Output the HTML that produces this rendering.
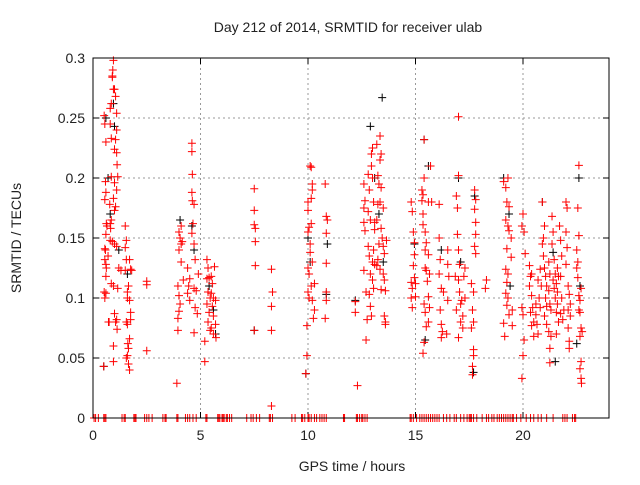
<!DOCTYPE html>
<html><head><meta charset="utf-8"><style>
body{margin:0;background:#fff;}
svg text{font-family:"Liberation Sans",sans-serif;font-size:14px;fill:#222;}
</style></head><body>
<svg id="chart" width="640" height="480">
<text x="348" y="32" text-anchor="middle">Day 212 of 2014, SRMTID for receiver ulab</text>
<text x="352" y="471" text-anchor="middle">GPS time / hours</text>
<text transform="translate(21,238) rotate(-90)" text-anchor="middle">SRMTID / TECUs</text>
<g id="grid"></g>
<g id="axes"></g>
<g id="black"></g>
<g id="red"></g>
<rect x="93" y="58" width="516" height="360" fill="none" stroke="#000" stroke-width="1"/>
</svg>
<script>
const xTicks=[0,5,10,15,20];
const yTicks=[0,0.05,0.1,0.15,0.2,0.25,0.3];
const yTickLabels=["0","0.05","0.1","0.15","0.2","0.25","0.3"];
const redPoints=[
[0.5,0.043],[0.52,0.252],[0.55,0.245],[0.6,0.23],[0.58,0.197],[0.6,0.188],[0.55,0.182],[0.62,0.162],[0.65,0.16],[0.6,0.153],[0.55,0.141],[0.58,0.14],[0.55,0.132],[0.6,0.128],[0.62,0.125],[0.6,0.118],[0.52,0.105],[0.55,0.1],[0.6,0.104],[0.7,0.135],[0.72,0.08],[0.75,0.08],
[0.8,0.162],[0.82,0.158],[0.85,0.165],[0.8,0.148],[0.78,0.178],[0.85,0.201],[0.85,0.233],[0.8,0.245],[0.8,0.258],[0.85,0.262],[0.9,0.285],[0.92,0.29],[0.95,0.298],[0.9,0.284],[0.95,0.274],[1.0,0.274],[1.05,0.268],[1.1,0.254],[1.1,0.24],[1.05,0.232],[1.0,0.224],[1.1,0.221],[1.12,0.211],[1.0,0.196],[1.1,0.19],[0.95,0.183],[1.05,0.176],[1.0,0.173],[1.15,0.201],[0.9,0.147],[1.0,0.145],[1.1,0.143],[0.85,0.112],[0.95,0.11],[1.0,0.087],[1.05,0.08],[1.1,0.082],[1.12,0.074],[1.15,0.108],[1.2,0.125],[1.3,0.123],[0.95,0.06],[0.95,0.047],
[1.5,0.16],[1.55,0.148],[1.5,0.142],[1.55,0.132],[1.5,0.123],[1.6,0.1],[1.6,0.105],[1.65,0.11],[1.55,0.08],[1.6,0.078],[1.62,0.062],[1.65,0.058],[1.55,0.05],[1.6,0.052],[1.65,0.045],[1.7,0.04],[1.7,0.098],[1.75,0.088],[1.7,0.132],[1.75,0.124],[1.8,0.123],[1.75,0.082],[1.7,0.066],
[2.5,0.114],[2.5,0.111],[2.5,0.056],
[3.9,0.029],[4.0,0.155],[4.05,0.15],[4.0,0.14],[4.1,0.145],[3.95,0.11],[4.0,0.102],[4.05,0.095],[4.0,0.089],[3.95,0.083],[3.95,0.073],[4.1,0.16],[4.15,0.147],[4.1,0.13],[4.2,0.115],[4.4,0.125],[4.5,0.116],[4.45,0.11],[4.4,0.104],[4.5,0.098],[4.6,0.229],[4.6,0.222],[4.62,0.203],[4.6,0.188],[4.62,0.181],[4.7,0.178],[4.65,0.162],[4.6,0.154],[4.7,0.145],[4.75,0.132],[4.7,0.108],[4.8,0.106],[4.75,0.092],[4.85,0.087],[4.9,0.12],[4.7,0.071],
[5.2,0.064],[5.2,0.047],[5.3,0.132],[5.35,0.125],[5.3,0.116],[5.4,0.117],[5.35,0.105],[5.45,0.1],[5.3,0.095],[5.4,0.088],[5.35,0.08],[5.45,0.073],[5.5,0.118],[5.55,0.112],[5.5,0.104],[5.6,0.1],[5.55,0.093],[5.6,0.085],[5.5,0.075],[5.65,0.126],[5.7,0.098],[5.7,0.078],[5.72,0.067],[5.6,0.07],
[7.5,0.191],[7.5,0.173],[7.5,0.161],[7.55,0.158],[7.55,0.147],[7.55,0.127],[7.5,0.073],[8.3,0.124],[8.35,0.105],[8.3,0.093],[8.3,0.073],[8.3,0.01],
[9.9,0.037],[9.95,0.052],[9.95,0.077],[10.0,0.18],[10.0,0.173],[10.05,0.159],[10.0,0.155],[10.1,0.145],[10.0,0.125],[10.05,0.12],[10.0,0.105],[10.05,0.1],[10.1,0.21],[10.15,0.209],[10.2,0.195],[10.15,0.183],[10.2,0.19],[10.15,0.162],[10.1,0.138],[10.2,0.13],[10.15,0.11],[10.2,0.098],[10.3,0.112],[10.3,0.09],[10.25,0.083],[10.8,0.195],[10.85,0.168],[10.9,0.165],[10.85,0.154],[10.85,0.129],[10.85,0.105],[10.85,0.098],[10.8,0.083],
[12.2,0.097],[12.2,0.088],[12.3,0.027],[12.6,0.195],[12.65,0.181],[12.6,0.175],[12.6,0.163],[12.65,0.156],[12.6,0.123],[12.7,0.105],[12.75,0.082],[12.7,0.065],[12.8,0.203],[12.85,0.19],[12.8,0.172],[12.9,0.165],[12.8,0.143],[12.85,0.135],[12.9,0.12],[12.85,0.103],[12.9,0.093],[12.95,0.085],[13.0,0.225],[12.95,0.22],[12.95,0.21],[13.0,0.2],[13.05,0.18],[13.1,0.163],[13.1,0.157],[13.05,0.14],[13.0,0.13],[13.1,0.128],[13.0,0.115],[13.05,0.108],[13.2,0.228],[13.25,0.202],[13.3,0.195],[13.25,0.178],[13.2,0.165],[13.3,0.145],[13.25,0.132],[13.2,0.127],[13.35,0.235],[13.4,0.22],[13.35,0.215],[13.4,0.192],[13.35,0.18],[13.4,0.158],[13.45,0.15],[13.35,0.124],[13.4,0.107],[13.5,0.175],[13.5,0.143],[13.55,0.137],[13.5,0.12],[13.55,0.115],[13.6,0.106],[13.55,0.085],[13.6,0.08],[13.6,0.078],[13.65,0.148],
[14.8,0.18],[14.85,0.172],[14.8,0.113],[14.85,0.108],[14.8,0.1],[14.85,0.092],[14.9,0.155],[14.95,0.146],[14.95,0.136],[14.9,0.127],[14.95,0.117],[15.0,0.112],[15.0,0.101],[15.3,0.19],[15.35,0.186],[15.3,0.181],[15.35,0.17],[15.4,0.2],[15.35,0.161],[15.45,0.155],[15.4,0.232],[15.5,0.146],[15.45,0.14],[15.5,0.123],[15.45,0.125],[15.55,0.114],[15.4,0.095],[15.45,0.088],[15.5,0.076],[15.4,0.063],[15.35,0.054],[15.6,0.18],[15.6,0.136],[15.65,0.12],[15.6,0.101],[15.65,0.092],[15.6,0.08],[15.7,0.21],[15.75,0.18],[16.1,0.178],[16.1,0.15],[16.15,0.132],[16.1,0.12],[16.2,0.108],[16.15,0.09],[16.2,0.078],[16.25,0.072],[16.2,0.067],[16.3,0.105],[16.5,0.14],[16.5,0.128],[16.55,0.118],[16.5,0.098],[16.45,0.07],
[16.9,0.185],[16.95,0.175],[17.0,0.202],[17.0,0.251],[16.95,0.153],[17.0,0.14],[17.05,0.128],[17.0,0.115],[17.05,0.105],[16.9,0.09],[17.1,0.095],[17.15,0.098],[17.2,0.085],[17.1,0.08],[17.2,0.075],[17.0,0.067],[17.3,0.125],[17.25,0.118],[17.3,0.1],[16.85,0.118],[17.6,0.112],[17.7,0.105],[17.65,0.09],[17.7,0.08],[17.6,0.075],[17.7,0.057],[17.7,0.052],[17.65,0.043],[17.65,0.036],[17.75,0.19],[17.75,0.174],[17.8,0.163],[17.8,0.153],[17.75,0.143],[17.8,0.137],[17.8,0.182],
[18.3,0.115],[18.25,0.108],
[19.1,0.197],[19.2,0.192],[19.3,0.2],[19.25,0.18],[19.35,0.176],[19.2,0.165],[19.3,0.16],[19.35,0.156],[19.25,0.141],[19.2,0.124],[19.3,0.12],[19.25,0.113],[19.2,0.104],[19.3,0.1],[19.25,0.094],[19.35,0.086],[19.1,0.079],[19.15,0.068],[19.45,0.15],[19.45,0.134],[19.5,0.09],[19.5,0.077],
[19.95,0.16],[20.0,0.17],[20.05,0.155],[20.1,0.137],[19.95,0.092],[20.0,0.086],[20.05,0.065],[20.0,0.052],[19.95,0.033],[20.3,0.127],[20.35,0.118],[20.3,0.11],[20.4,0.12],[20.4,0.102],[20.45,0.092],[20.35,0.088],[20.5,0.08],[20.4,0.077],[20.5,0.068],[20.6,0.095],[20.6,0.086],[20.65,0.078],[20.7,0.07],[20.7,0.115],[20.75,0.1],[20.8,0.092],[20.8,0.124],[20.85,0.11],[20.9,0.18],[20.95,0.15],[20.9,0.145],[20.95,0.135],[21.0,0.16],[21.0,0.125],[21.05,0.118],[21.1,0.11],[21.05,0.1],[21.1,0.093],[21.0,0.085],[21.1,0.078],[21.2,0.13],[21.25,0.12],[21.2,0.106],[21.25,0.095],[21.3,0.09],[21.2,0.072],[21.3,0.068],[21.25,0.058],[21.25,0.046],[21.35,0.168],[21.4,0.155],[21.35,0.145],[21.45,0.132],[21.4,0.115],[21.45,0.108],[21.5,0.1],[21.5,0.12],[21.55,0.112],[21.6,0.125],[21.6,0.105],[21.65,0.118],[21.6,0.095],[21.55,0.088],[21.65,0.08],[21.55,0.07],[21.7,0.16],[21.75,0.148],[21.8,0.135],[21.75,0.118],[21.8,0.1],[21.75,0.087],[21.85,0.082],[21.9,0.09],[22.0,0.155],[22.05,0.142],[22.0,0.128],[22.1,0.11],[22.0,0.18],[22.05,0.175],[22.15,0.103],[22.1,0.09],[22.2,0.085],[22.1,0.075],[22.15,0.064],[22.15,0.058],[22.2,0.095],[22.5,0.14],[22.55,0.13],[22.5,0.125],[22.6,0.2105],[22.55,0.175],[22.6,0.152],[22.55,0.117],[22.6,0.102],[22.65,0.098],[22.7,0.108],[22.65,0.088],[22.7,0.075],[22.75,0.072],[22.65,0.068],[22.7,0.047],[22.65,0.041],[22.7,0.033],[22.72,0.029],[22.6,0.09]
];
const blackPoints=[
[0.5,0.043],[0.6,0.25],[0.95,0.262],[1.0,0.243],[0.7,0.2],[0.8,0.17],[1.2,0.14],[1.6,0.12],[4.05,0.165],[4.6,0.16],[4.7,0.14],[5.4,0.11],[5.6,0.09],[5.7,0.07],[7.5,0.073],[10.0,0.15],[10.1,0.13],[9.9,0.037],[10.9,0.145],[10.85,0.103],[12.2,0.098],[12.9,0.243],[13.45,0.267],[13.1,0.2],[13.3,0.17],[13.5,0.13],[15.4,0.232],[15.6,0.21],[14.95,0.145],[15.45,0.065],[16.2,0.14],[17.0,0.2],[17.1,0.13],[17.7,0.038],[17.75,0.185],[19.1,0.2],[19.35,0.17],[19.4,0.11],[20.9,0.18],[21.4,0.138],[21.5,0.047],[22.0,0.155],[22.5,0.062],[22.6,0.2],[22.65,0.11]
];
const zeroTimes=[0.05,0.12,0.25,0.5,0.55,0.6,1.35,1.45,1.5,1.9,1.95,2.0,2.4,2.5,2.6,2.75,3.25,3.35,3.4,3.9,3.95,4.3,4.4,4.5,4.65,4.8,5.25,5.3,5.8,5.85,5.9,6.0,6.05,6.1,6.2,6.25,6.35,6.45,7.15,7.35,7.45,7.6,7.75,8.2,8.25,8.35,9.25,9.4,9.7,9.75,9.85,10.0,10.05,10.15,10.3,10.4,10.55,10.65,10.75,10.85,11.65,11.7,12.25,12.3,12.4,12.5,12.55,12.65,12.75,14.75,14.8,14.9,15.05,15.2,15.3,15.4,15.5,15.6,15.7,15.8,15.9,16.0,16.1,16.3,16.45,16.6,16.8,16.9,17.1,17.25,17.4,17.5,17.55,17.6,17.7,17.85,18.1,18.3,18.4,18.55,18.65,18.8,18.9,19.0,19.1,19.2,19.3,19.4,19.5,19.55,19.7,19.9,20.15,20.35,20.5,20.7,20.85,21.1,21.4,21.85,21.95,22.05,22.3,22.4,22.45];
const X0=93,X1=609,Y0=418,Y1=58,XMAX=24,YMAX=0.3;
const xs=t=>X0+(X1-X0)*t/XMAX;
const ys=v=>Y0-(Y0-Y1)*v/YMAX;
const NS="http://www.w3.org/2000/svg";
function mk(tag,attrs,parent){const e=document.createElementNS(NS,tag);for(const k in attrs)e.setAttribute(k,attrs[k]);parent.appendChild(e);return e;}
const grid=document.getElementById('grid'),axes=document.getElementById('axes');
xTicks.forEach((t,i)=>{const x=xs(t);
 if(t>0){const g=mk('line',{x1:x,x2:x,y1:Y1,y2:Y0,stroke:'#999','stroke-dasharray':'2,3'},grid);}
 mk('line',{x1:x,x2:x,y1:Y0,y2:Y0-6,stroke:'#000'},axes);mk('line',{x1:x,x2:x,y1:Y1,y2:Y1+6,stroke:'#000'},axes);
 const l=mk('text',{x:x,y:Y0+22,'text-anchor':'middle'},axes);l.textContent=String(t);
 
 
});
yTicks.forEach((v,i)=>{const y=ys(v);
 if(v>0&&v<YMAX){const g=mk('line',{x1:X0,x2:X1,y1:y,y2:y,stroke:'#999','stroke-dasharray':'2,3'},grid);}
 mk('line',{x1:X0,x2:X0+6,y1:y,y2:y,stroke:'#000'},axes);mk('line',{x1:X1,x2:X1-6,y1:y,y2:y,stroke:'#000'},axes);
 const l=mk('text',{x:X0-8,y:y+5,'text-anchor':'end'},axes);l.textContent=yTickLabels[i];
 
 
});
function plus(g,t,v,c,name){const x=xs(t),y=ys(v);
 const p=mk('path',{d:`M${x-4},${y}h8M${x},${y-4}v8`,stroke:c,'stroke-width':1,fill:'none'},g);
 
 
}
const bg=document.getElementById('black'),rg=document.getElementById('red');
blackPoints.forEach(p=>plus(bg,p[0],p[1],'#000','black-point'));
redPoints.forEach(p=>plus(rg,p[0],p[1],'#f00','red-point'));
zeroTimes.forEach(t=>plus(rg,t,0,'#f00','zero-point'));
</script>
</body></html>
